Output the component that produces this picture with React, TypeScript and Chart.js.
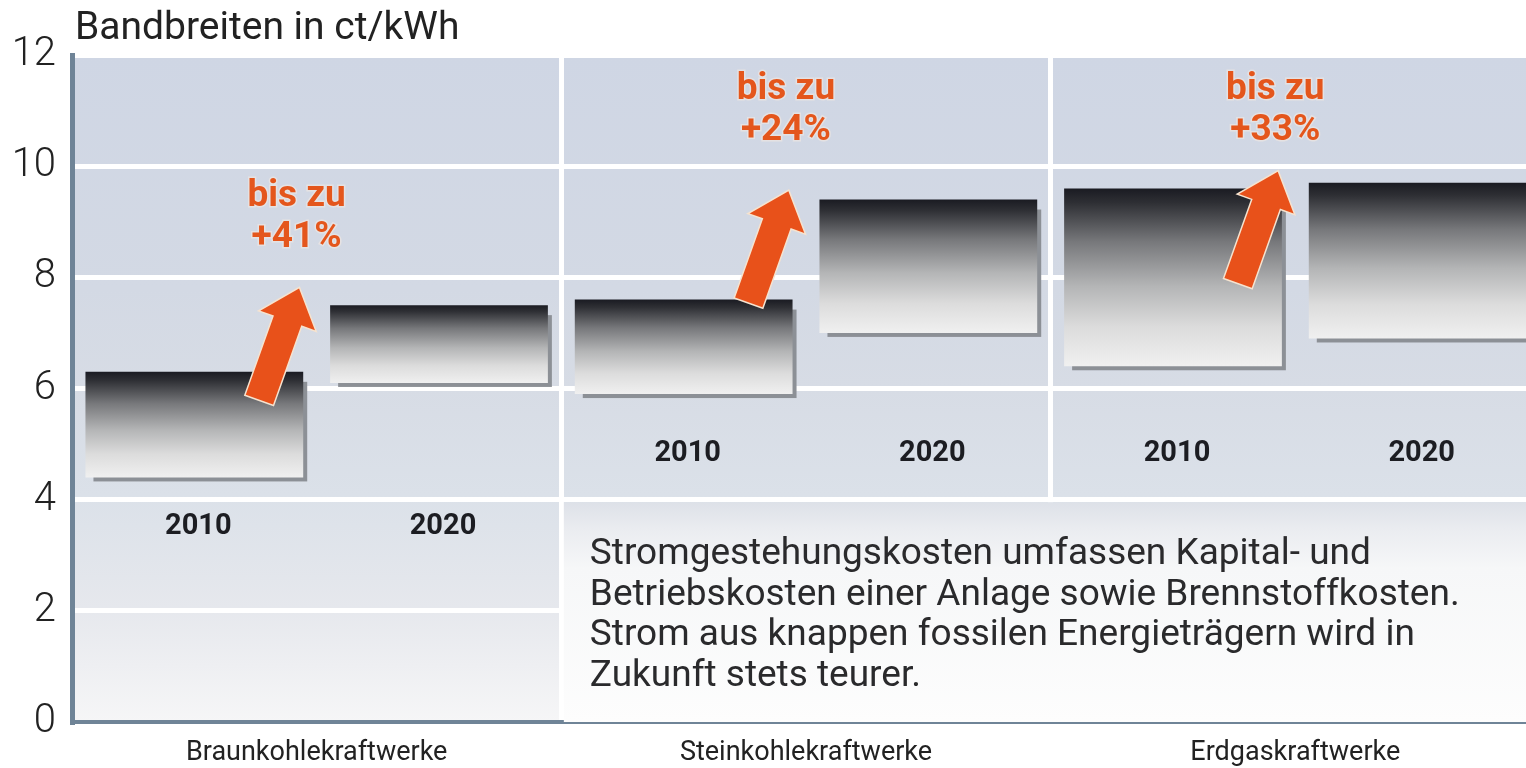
import React, { useEffect, useRef } from 'react';
import { Chart, registerables } from 'chart.js';

Chart.register(...registerables);

const categories = ['Braunkohlekraftwerke', 'Steinkohlekraftwerke', 'Erdgaskraftwerke'];
const yearLabels = ['2010', '2020'];
const low2010 = [4.4, 5.9, 6.4];
const high2010 = [6.3, 7.6, 9.6];
const low2020 = [6.1, 7.0, 6.9];
const high2020 = [7.5, 9.4, 9.7];
const increasePct = ['+41%', '+24%', '+33%'];
const arrowTailValue = [5.8, 7.55, 7.9];
const arrowTipValue = [7.8, 9.55, 9.9];
const labelValue = [9.45, 11.37, 11.37];
const yearLabelValue = [3.55, 4.86, 4.86];
const yMin = 0;
const yMax = 12;
const yStep = 2;
const noteFromValue = 4;
const titleText = 'Bandbreiten in ct/kWh';
const noteLines = [
  'Stromgestehungskosten umfassen Kapital- und',
  'Betriebskosten einer Anlage sowie Brennstoffkosten.',
  'Strom aus knappen fossilen Energieträgern wird in',
  'Zukunft stets teurer.',
];

const FONT = 'Roboto, "Noto Sans", sans-serif';
const ORANGE = '#e4561c';
const AXIS = '#6f8497';

function barGradient(ctx: any) {
  const chart = ctx.chart;
  const y = chart.scales && chart.scales.y;
  if (!y || ctx.type !== 'data' || !Array.isArray(ctx.raw)) return '#999';
  const top = y.getPixelForValue(ctx.raw[1]);
  const bot = y.getPixelForValue(ctx.raw[0]);
  if (!isFinite(top) || !isFinite(bot) || top === bot) return '#999';
  const g = chart.ctx.createLinearGradient(0, top, 0, bot);
  g.addColorStop(0, '#1a1b22');
  g.addColorStop(0.08, '#2e2f34');
  g.addColorStop(0.3, '#77787b');
  g.addColorStop(0.55, '#b4b5b6');
  g.addColorStop(0.78, '#dcdcdc');
  g.addColorStop(1, '#f0f0f0');
  return g;
}

const backgroundPlugin = {
  id: 'panelBackground',
  beforeDraw(chart: any) {
    const { ctx, chartArea } = chart;
    const y = chart.scales.y;
    const g = ctx.createLinearGradient(0, chartArea.top, 0, chartArea.bottom);
    g.addColorStop(0, '#cfd6e4');
    g.addColorStop(0.35, '#d3d9e4');
    g.addColorStop(0.5, '#d7dce5');
    g.addColorStop(0.66, '#dbe1e9');
    g.addColorStop(0.83, '#e6e8ed');
    g.addColorStop(1, '#f6f6f7');
    ctx.save();
    ctx.fillStyle = g;
    ctx.fillRect(chartArea.left, chartArea.top, chartArea.right - chartArea.left, y.getPixelForValue(yMin) - chartArea.top);
    ctx.restore();
  },
};

const noteAndShadowPlugin = {
  id: 'noteAndShadow',
  beforeDatasetsDraw(chart: any) {
    const { ctx, chartArea } = chart;
    const x = chart.scales.x;
    const y = chart.scales.y;
    const catW = x.width / categories.length;
    // note box over the lower part of categories 2 and 3
    const boxLeft = x.left + catW + 2.5;
    const boxTop = y.getPixelForValue(noteFromValue) + 2.5;
    const boxBottom = y.getPixelForValue(yMin);
    const g = ctx.createLinearGradient(0, boxTop, 0, boxBottom);
    g.addColorStop(0, '#dde1e8');
    g.addColorStop(0.12, '#eaecf0');
    g.addColorStop(0.3, '#f6f7f8');
    g.addColorStop(1, '#fdfdfd');
    ctx.save();
    ctx.fillStyle = g;
    ctx.fillRect(boxLeft, boxTop, chartArea.right - boxLeft + 10, boxBottom - boxTop);
    ctx.fillStyle = '#2a2a2c';
    ctx.font = `37px ${FONT}`;
    ctx.textAlign = 'left';
    ctx.textBaseline = 'alphabetic';
    noteLines.forEach((line, i) => {
      ctx.fillText(line, boxLeft + 26, boxTop + 62 + i * 40.5);
    });
    // bar shadows
    chart.data.datasets.forEach((_: any, di: number) => {
      const meta = chart.getDatasetMeta(di);
      meta.data.forEach((bar: any) => {
        const l = bar.x - bar.width / 2;
        const r = bar.x + bar.width / 2;
        const t = Math.min(bar.y, bar.base);
        const b = Math.max(bar.y, bar.base);
        ctx.fillStyle = '#8c9096';
        ctx.fillRect(l + 8, t + 10, r - l - 4, b - t - 6);
      });
    });
    ctx.restore();
  },
};

function drawArrow(ctx: CanvasRenderingContext2D, x0: number, y0: number, x1: number, y1: number) {
  const dx = x1 - x0;
  const dy = y1 - y0;
  const len = Math.hypot(dx, dy);
  const ux = dx / len;
  const uy = dy / len;
  const nx = -uy;
  const ny = ux;
  const body = 14.5;
  const head = 29;
  const headLen = 34;
  const neckX = x1 - ux * headLen;
  const neckY = y1 - uy * headLen;
  ctx.beginPath();
  ctx.moveTo(x0 + nx * body, y0 + ny * body);
  ctx.lineTo(neckX + nx * body, neckY + ny * body);
  ctx.lineTo(neckX + nx * head, neckY + ny * head);
  ctx.lineTo(x1, y1);
  ctx.lineTo(neckX - nx * head, neckY - ny * head);
  ctx.lineTo(neckX - nx * body, neckY - ny * body);
  ctx.lineTo(x0 - nx * body, y0 - ny * body);
  ctx.closePath();
  ctx.lineJoin = 'miter';
  ctx.strokeStyle = '#f6e3cf';
  ctx.lineWidth = 3;
  ctx.stroke();
  ctx.fillStyle = '#e8511a';
  ctx.fill();
}

const annotationPlugin = {
  id: 'annotations',
  afterDatasetsDraw(chart: any) {
    const { ctx, chartArea } = chart;
    const x = chart.scales.x;
    const y = chart.scales.y;
    const catW = x.width / categories.length;
    ctx.save();
    categories.forEach((_, i) => {
      const cx = x.getPixelForValue(i);
      drawArrow(
        ctx,
        cx - 0.117 * catW,
        y.getPixelForValue(arrowTailValue[i]),
        cx - 0.036 * catW,
        y.getPixelForValue(arrowTipValue[i])
      );
      const lx = cx - 0.041 * catW;
      const ly = y.getPixelForValue(labelValue[i]);
      ctx.font = `bold 37px ${FONT}`;
      ctx.textAlign = 'center';
      ctx.textBaseline = 'middle';
      ctx.lineWidth = 3;
      ctx.strokeStyle = 'rgba(245,235,225,0.55)';
      ctx.strokeText('bis zu', lx, ly);
      ctx.strokeText(increasePct[i], lx, ly + 41);
      ctx.fillStyle = ORANGE;
      ctx.fillText('bis zu', lx, ly);
      ctx.fillText(increasePct[i], lx, ly + 41);
    });
    // year labels under bars
    ctx.font = `bold 29px ${FONT}`;
    ctx.fillStyle = '#1c1d22';
    ctx.textAlign = 'center';
    ctx.textBaseline = 'middle';
    chart.data.datasets.forEach((ds: any, di: number) => {
      const meta = chart.getDatasetMeta(di);
      meta.data.forEach((bar: any, i: number) => {
        ctx.fillText(ds.label, bar.x + 4, y.getPixelForValue(yearLabelValue[i]) + 2);
      });
    });
    // title
    ctx.font = `39px ${FONT}`;
    ctx.fillStyle = '#222';
    ctx.textAlign = 'left';
    ctx.textBaseline = 'middle';
    ctx.fillText(titleText, chartArea.left + 3, 29);
    ctx.restore();
  },
};

export default function App() {
  const ref = useRef<HTMLCanvasElement | null>(null);
  useEffect(() => {
    if (!ref.current) return;
    const chart = new Chart(ref.current, {
      type: 'bar',
      data: {
        labels: categories,
        datasets: [
          {
            label: yearLabels[0],
            data: categories.map((_, i) => [low2010[i], high2010[i]]),
            backgroundColor: barGradient,
            borderWidth: 0,
            barPercentage: 0.89,
            categoryPercentage: 1,
          },
          {
            label: yearLabels[1],
            data: categories.map((_, i) => [low2020[i], high2020[i]]),
            backgroundColor: barGradient,
            borderWidth: 0,
            barPercentage: 0.89,
            categoryPercentage: 1,
          },
        ] as any,
      },
      options: {
        responsive: false,
        animation: false,
        layout: { padding: { top: 55, right: 5, left: 0, bottom: 0 } },
        plugins: {
          legend: { display: false },
          tooltip: { enabled: false },
          title: { display: false },
        },
        scales: {
          x: {
            grid: { offset: true, color: '#ffffff', lineWidth: 5, drawTicks: false },
            border: { display: true, color: AXIS, width: 4 },
            ticks: { color: '#222', font: { family: FONT, size: 27 }, padding: 15 },
            afterFit: (scale: any) => {
              scale.height = 46;
            },
          },
          y: {
            min: yMin,
            max: yMax,
            grid: { color: '#ffffff', lineWidth: 5, drawTicks: false },
            border: { display: true, color: AXIS, width: 5 },
            ticks: { stepSize: yStep, color: '#222', font: { family: FONT, size: 40, weight: '300' as any }, padding: 16 },
            afterFit: (scale: any) => {
              scale.width = 72;
            },
          },
        },
      },
      plugins: [backgroundPlugin, noteAndShadowPlugin, annotationPlugin],
    });
    return () => chart.destroy();
  }, []);
  return (
    <div style={{ position: 'fixed', left: 0, top: 0, width: 1526, height: 768, overflow: 'hidden', background: '#fff' }}>
      <canvas ref={ref} width={1545} height={768} style={{ display: 'block', width: 1545, height: 768 }} />
    </div>
  );
}
